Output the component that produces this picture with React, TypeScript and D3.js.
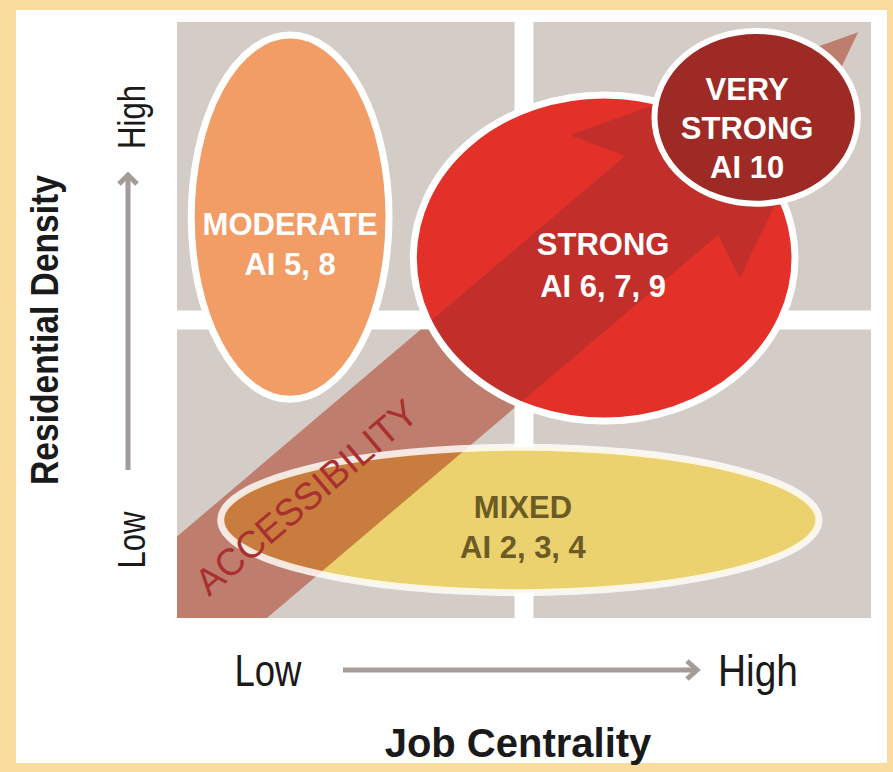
import React from 'react'
import * as d3 from 'd3'

const W = 893
const H = 772
const FONT = "'Liberation Sans', Arial, Helvetica, sans-serif"

// quadrants of the grid, in data units (job centrality, residential density)
const cells = [[0, 0], [1, 0], [0, 1], [1, 1]]

// zones: moderate, mixed, strong, very strong
const zoneLines = [['MODERATE', 'AI 5, 8'], ['MIXED', 'AI 2, 3, 4'], ['STRONG', 'AI 6, 7, 9'], ['VERY', 'STRONG', 'AI 10']]
const zoneCenters = [[0.326, 1.345], [0.988, 0.329], [1.231, 1.208], [1.669, 1.68]]
const zoneRadii = [[0.285, 0.611], [0.862, 0.244], [0.55, 0.547], [0.293, 0.29]]
const zoneLabelAt = [[0.326, 1.285], [0.997, 0.336], [1.228, 1.218], [1.643, 1.738]]
const zoneFill = ['#f29c66', '#ecd16f', '#e3312a', '#9e2a25']
const zoneText = ['#ffffff', '#6b5b24', '#ffffff', '#ffffff']

// accessibility arrow outline
const accessArrow = [[-0.222, 0.054], [1.291, 1.55], [1.133, 1.621], [1.963, 1.966], [1.622, 1.141], [1.559, 1.285], [0.066, -0.191]]
const accessLabel = 'ACCESSIBILITY'
const accessLabelAt = [0.092, 0.07]

const xLabels = ['Low', 'High']
const yLabels = ['Low', 'High']
const xTitle = 'Job Centrality'
const yTitle = 'Residential Density'

export default function App() {
  const x = d3.scaleLinear().domain([0, 2]).range([177, 871])
  const y = d3.scaleLinear().domain([0, 2]).range([618, 22])
  const gap = 19

  const outline = d3.line<number[]>()
    .x(d => x(d[0]))
    .y(d => y(d[1]))
    .curve(d3.curveLinearClosed)
  const arrowPath = outline(accessArrow) || ''

  const ell = (i: number) => ({
    cx: x(zoneCenters[i][0]),
    cy: y(zoneCenters[i][1]),
    rx: x(zoneRadii[i][0]) - x(0),
    ry: y(0) - y(zoneRadii[i][1]),
  })

  const cellRect = (c: number[]) => {
    const x0 = c[0] === 0 ? x(0) : x(1) + gap / 2
    const x1 = c[0] === 0 ? x(1) - gap / 2 : x(2)
    const y0 = c[1] === 0 ? y(1) + gap / 2 : y(2)
    const y1 = c[1] === 0 ? y(0) : y(1) - gap / 2
    return { x: x0, y: y0, width: x1 - x0, height: y1 - y0 }
  }

  const p0 = accessArrow[0], p1 = accessArrow[1]
  const angle = Math.atan2(y(p1[1]) - y(p0[1]), x(p1[0]) - x(p0[0])) * 180 / Math.PI

  const strokeW = [7, 7, 7, 6]
  const lineH = [40, 40, 42, 39]

  const zoneLabel = (i: number) => (
    <text key={'l' + i} fontFamily={FONT} fontWeight="bold" fontSize={31} fill={zoneText[i]} textAnchor="middle">
      {zoneLines[i].map((t, k) => (
        <tspan key={k} x={x(zoneLabelAt[i][0])} y={y(zoneLabelAt[i][1]) + k * lineH[i]}>{t}</tspan>
      ))}
    </text>
  )

  const mod = ell(0), mix = ell(1), str = ell(2), vs = ell(3)
  const grey = '#a39c98'

  return (
    <svg width={W} height={H} style={{ position: 'absolute', left: 0, top: 0 }}>
      <defs>
        <clipPath id="cellClip">
          {cells.map((c, i) => <rect key={i} {...cellRect(c)} />)}
        </clipPath>
        <clipPath id="mixClip">
          <ellipse {...mix} />
        </clipPath>
        <clipPath id="strClip">
          <ellipse {...str} />
        </clipPath>
      </defs>

      <rect width={W} height={H} fill="#fadb9e" />
      <rect x={16} y={10} width={871} height={753} fill="#ffffff" />

      {cells.map((c, i) => <rect key={i} {...cellRect(c)} fill="#d3ccc7" />)}

      <g clipPath="url(#cellClip)">
        <path d={arrowPath} fill="#bf7d6d" />
      </g>

      <ellipse {...mod} fill={zoneFill[0]} stroke="#fff" strokeWidth={strokeW[0]} />

      <ellipse {...mix} fill={zoneFill[1]} />
      <g clipPath="url(#mixClip)">
        <path d={arrowPath} fill="#c87d3e" />
      </g>
      <ellipse {...mix} fill="none" stroke="#fff" strokeOpacity={0.82} strokeWidth={strokeW[1]} />

      <text
        transform={`translate(${x(accessLabelAt[0])},${y(accessLabelAt[1])}) rotate(${angle})`}
        fontFamily={FONT} fontSize={38} fill="#a8302e" textLength={278} lengthAdjust="spacingAndGlyphs"
      >{accessLabel}</text>

      <ellipse {...str} fill={zoneFill[2]} />
      <g clipPath="url(#strClip)">
        <path d={arrowPath} fill="#c22e2a" />
      </g>
      <ellipse {...str} fill="none" stroke="#fff" strokeWidth={strokeW[2]} />

      <ellipse {...vs} fill={zoneFill[3]} stroke="#fff" strokeWidth={strokeW[3]} />

      {zoneLines.map((_, i) => zoneLabel(i))}

      {/* horizontal axis */}
      <line x1={343} y1={670} x2={696} y2={670} stroke={grey} strokeWidth={5} />
      <polyline points="687,661 697,670 687,679" fill="none" stroke={grey} strokeWidth={5} />
      <text x={268} y={686} textAnchor="middle" fontFamily={FONT} fontSize={44} fill="#1a1a1a" textLength={67} lengthAdjust="spacingAndGlyphs">{xLabels[0]}</text>
      <text x={758} y={686} textAnchor="middle" fontFamily={FONT} fontSize={44} fill="#1a1a1a" textLength={80} lengthAdjust="spacingAndGlyphs">{xLabels[1]}</text>
      <text x={518} y={757} textAnchor="middle" fontFamily={FONT} fontWeight="bold" fontSize={40} fill="#1a1a1a">{xTitle}</text>

      {/* vertical axis */}
      <line x1={128} y1={470} x2={128} y2={176} stroke={grey} strokeWidth={5} />
      <polyline points="119,184 128,175 137,184" fill="none" stroke={grey} strokeWidth={5} />
      <text transform="translate(145,540) rotate(-90)" textAnchor="middle" fontFamily={FONT} fontSize={38} fill="#1a1a1a" textLength={57} lengthAdjust="spacingAndGlyphs">{yLabels[0]}</text>
      <text transform="translate(145,117) rotate(-90)" textAnchor="middle" fontFamily={FONT} fontSize={38} fill="#1a1a1a" textLength={64} lengthAdjust="spacingAndGlyphs">{yLabels[1]}</text>
      <text transform="translate(58,330) rotate(-90)" textAnchor="middle" fontFamily={FONT} fontWeight="bold" fontSize={39} fill="#1a1a1a" textLength={310} lengthAdjust="spacingAndGlyphs">{yTitle}</text>
    </svg>
  )
}
